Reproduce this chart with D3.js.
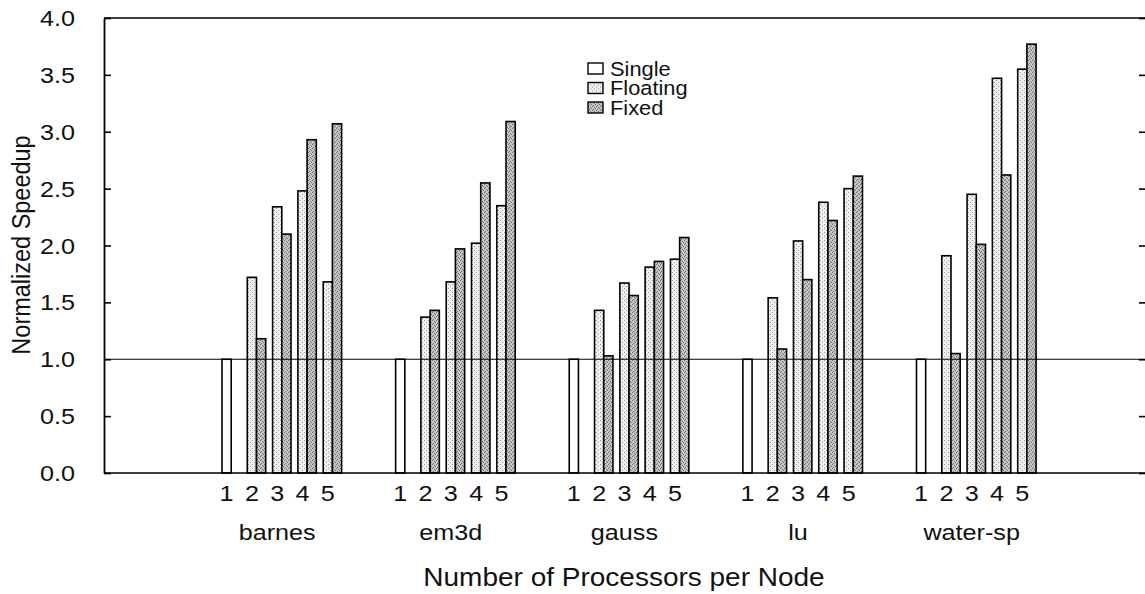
<!DOCTYPE html>
<html>
<head>
<meta charset="utf-8">
<script src="https://cdn.jsdelivr.net/npm/d3@7"></script>
<style>
  html, body { margin: 0; padding: 0; background: #fff; }
  svg { display: block; }
  text { font-family: "Liberation Sans", Arial, Helvetica, sans-serif; fill: #111; }
</style>
</head>
<body>
<svg id="chart" width="1145" height="594"></svg>
<script>
// Benchmarks and processor counts per node
const benchmarks = ["barnes", "em3d", "gauss", "lu", "water-sp"];
const procs = ["1", "2", "3", "4", "5"];
const seriesNames = ["Single", "Floating", "Fixed"];
const yTicks = [0, 0.5, 1, 1.5, 2, 2.5, 3, 3.5, 4];

// Single-processor baseline (1 processor per node)
const singleValues = [1.0, 1.0, 1.0, 1.0, 1.0];
// Speedups for 2..5 processors per node
const floatingValues = [
  [1.72, 2.34, 2.48, 1.68],
  [1.37, 1.68, 2.02, 2.35],
  [1.43, 1.67, 1.81, 1.88],
  [1.54, 2.04, 2.38, 2.50],
  [1.91, 2.45, 3.47, 3.55]
];
const fixedValues = [
  [1.18, 2.10, 2.93, 3.07],
  [1.43, 1.97, 2.55, 3.09],
  [1.03, 1.56, 1.86, 2.07],
  [1.09, 1.70, 2.22, 2.61],
  [1.05, 2.01, 2.62, 3.77]
];

const svg = d3.select("#chart");
const plotLeft = 104, plotRight = 1148, plotTop = 18, plotBottom = 473;
const stretch = 1.12; // wide-set lettering

const y = d3.scaleLinear().domain([0, 4]).range([plotBottom, plotTop]);

const xGroup = d3.scaleBand()
  .domain(benchmarks)
  .range([222, 1043])
  .paddingInner(0.2713)
  .paddingOuter(0);

const xProc = d3.scaleBand()
  .domain(procs)
  .range([0, xGroup.bandwidth()])
  .padding(0);

const xSlot = d3.scaleBand()
  .domain(["a", "b"])
  .range([0, 18.4]);

// Horizontal label with slightly widened glyphs
function label(parent, x, yPos, txt, size, anchor) {
  return parent.append("text")
    .attr("transform", `translate(${x},${yPos}) scale(${stretch},1)`)
    .attr("text-anchor", anchor || "middle")
    .attr("font-size", size)
    .text(txt);
}

// Stipple textures for the two shaded series
const defs = svg.append("defs");
function stipple(id, base, dot, pts) {
  const p = defs.append("pattern")
    .attr("id", id).attr("patternUnits", "userSpaceOnUse")
    .attr("width", 4).attr("height", 4);
  p.append("rect").attr("width", 4).attr("height", 4).attr("fill", base);
  pts.forEach(([px, py]) => p.append("rect").attr("x", px).attr("y", py)
    .attr("width", 1).attr("height", 1).attr("fill", dot));
}
stipple("pFloat", "#efefef", "#9a9a9a", [[0, 0], [2, 2]]);
stipple("pFixed", "#c6c6c6", "#6e6e6e", [[0, 0], [2, 1], [1, 3], [3, 2]]);
const fills = { Single: "#ffffff", Floating: "url(#pFloat)", Fixed: "url(#pFixed)" };

// Flatten bar records
const bars = [];
benchmarks.forEach((b, gi) => {
  bars.push({ bench: b, proc: "1", slot: "a", series: "Single", value: singleValues[gi] });
  procs.slice(1).forEach((p, pi) => {
    bars.push({ bench: b, proc: p, slot: "a", series: "Floating", value: floatingValues[gi][pi] });
    bars.push({ bench: b, proc: p, slot: "b", series: "Fixed", value: fixedValues[gi][pi] });
  });
});

svg.append("g").selectAll("rect")
  .data(bars)
  .join("rect")
  .attr("x", d => xGroup(d.bench) + xProc(d.proc) + xSlot(d.slot))
  .attr("y", d => y(d.value))
  .attr("width", xSlot.bandwidth())
  .attr("height", d => y(0) - y(d.value))
  .attr("fill", d => fills[d.series])
  .attr("stroke", "#000")
  .attr("stroke-width", 1.6);

// Frame: top and bottom lines
svg.append("line").attr("x1", plotLeft).attr("x2", plotRight).attr("y1", y(4)).attr("y2", y(4))
  .attr("stroke", "#000").attr("stroke-width", 1.6);
svg.append("line").attr("x1", plotLeft).attr("x2", plotRight).attr("y1", y(0)).attr("y2", y(0))
  .attr("stroke", "#000").attr("stroke-width", 1.6);

// Baseline at speedup 1.0
svg.append("line").attr("x1", plotLeft).attr("x2", plotRight).attr("y1", y(1)).attr("y2", y(1))
  .attr("stroke", "#000").attr("stroke-width", 1.1);

// Left axis with inward ticks
const yAxisL = d3.axisLeft(y).tickValues(yTicks).tickFormat("")
  .tickSizeInner(-7).tickSizeOuter(0);
const gL = svg.append("g").attr("transform", `translate(${plotLeft},0)`).call(yAxisL);
gL.select(".domain").attr("stroke-width", 1.8);
gL.selectAll(".tick line").attr("stroke-width", 1.6);
const fmt = d3.format(".1f");
yTicks.forEach(t => {
  label(svg, 75, y(t) + 8, fmt(t), 22.5, "end");
});

// Right axis ticks (inward)
const yAxisR = d3.axisRight(y).tickValues(yTicks).tickFormat("")
  .tickSizeInner(-7).tickSizeOuter(0);
const gR = svg.append("g").attr("transform", `translate(${plotRight - 2},0)`).call(yAxisR);
gR.selectAll(".tick line").attr("stroke-width", 1.6);

// Processor count labels under each bar cluster
const gProc = svg.append("g");
benchmarks.forEach(b => procs.forEach(p => {
  label(gProc, xGroup(b) + xProc(p) + xSlot("a") + xSlot.bandwidth() / 2, 501, p, 22.5);
}));

// Benchmark names
const gNames = svg.append("g");
benchmarks.forEach(b => {
  label(gNames, xGroup(b) + xProc("3") + xSlot.bandwidth() / 2, 540, b, 22.5);
});

// Axis titles
label(svg, 624, 586, "Number of Processors per Node", 25);

svg.append("text")
  .attr("transform", "translate(30,245) rotate(-90) scale(1,1.08)")
  .attr("text-anchor", "middle")
  .attr("font-size", 23.5)
  .text("Normalized Speedup");

// Legend
const legend = svg.append("g").attr("transform", "translate(588,63)");
seriesNames.forEach((s, i) => {
  const g = legend.append("g").attr("transform", `translate(0,${i * 19.5})`);
  g.append("rect").attr("width", 15).attr("height", 11)
    .attr("fill", fills[s]).attr("stroke", "#000").attr("stroke-width", 1.4);
  label(g, 22, 12.5, s, 19.5, "start");
});
</script>
</body>
</html>
